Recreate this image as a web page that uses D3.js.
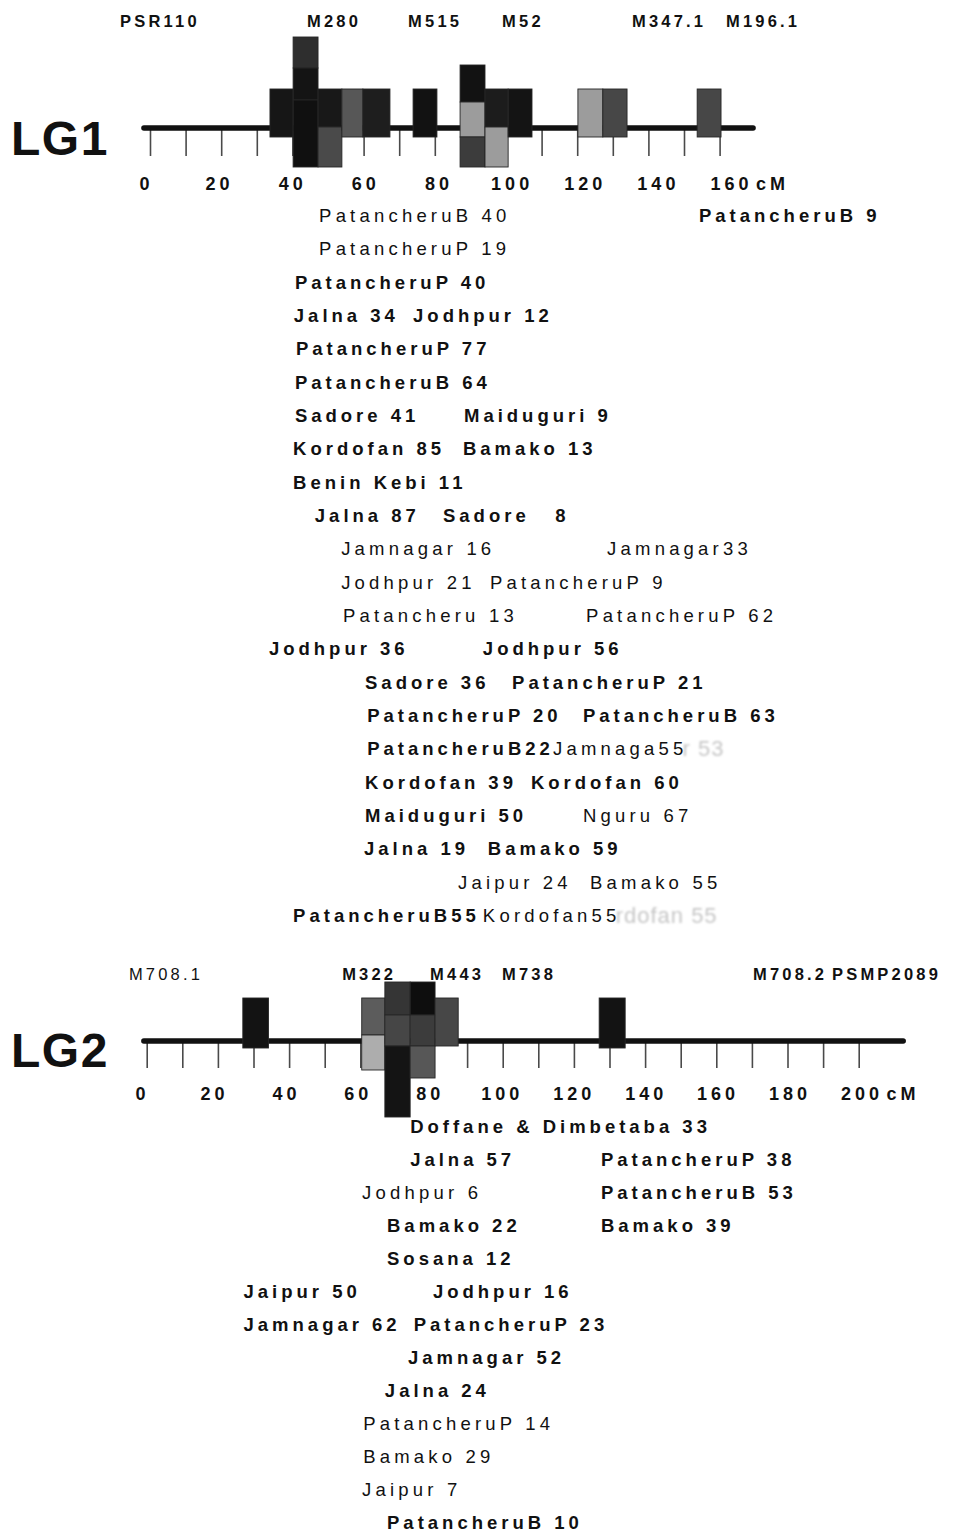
<!DOCTYPE html>
<html><head><meta charset="utf-8">
<script src="https://cdn.jsdelivr.net/npm/d3@7"></script>
<style>
html,body{margin:0;padding:0;background:#fff;}
svg{display:block;}
text{font-family:"Liberation Sans",Arial,Helvetica,sans-serif;fill:#111;}
</style></head><body>
<svg id="chart" width="958" height="1534"></svg>
<script>
// ---------------- LG1 data ----------------
const lg1Name = "LG1";
const lg1Extent = [-1.7, 169.4];
const lg1Ticks = [0,10,20,30,40,50,60,70,80,90,100,110,120,130,140,150,160];
const lg1TickLabels = [0,20,40,60,80,100,120,140,160];
const lg1Markers = ["PSR110","M280","M515","M52","M347.1","M196.1"];
const lg1MarkerAt = [-8.4,44.1,72.5,98.9,135.4,161.8];
const lg1MarkerBold = [1,1,1,1,1,1];
const lg1BoxStart = [33.7,40.2,40.2,40.2,47.2,47.2,53.9,59.8,73.9,87.1,87.1,87.1,94.1,94.1,100.6,120.2,127.2,153.7];
const lg1BoxEnd   = [40.2,47.2,47.2,47.2,53.9,53.9,59.8,67.4,80.6,94.1,94.1,94.1,100.6,100.6,107.3,127.2,134.0,160.4];
const lg1BoxTop   = [3.9,9.1,6.0,2.8,3.9,0.1,3.9,3.9,3.9,6.3,2.6,-0.9,3.9,0.1,3.9,3.9,3.9,3.9];
const lg1BoxBottom= [-0.9,6.0,2.8,-3.9,0.1,-3.9,-0.9,-0.9,-0.9,2.6,-0.9,-3.9,0.1,-3.9,-0.9,-0.9,-0.9,-0.9];
const lg1BoxShade = ["#161616","#2e2e2e","#141414","#101010","#181818","#4a4a4a","#575757","#1e1e1e","#121212","#121212","#9c9c9c","#3c3c3c","#1c1c1c","#9c9c9c","#141414","#9c9c9c","#474747","#474747"];
const lg1Texts = ["PatancheruB 40","PatancheruB 9","PatancheruP 19","PatancheruP 40","Jalna 34","Jodhpur 12","PatancheruP 77","PatancheruB 64","Sadore 41","Maiduguri 9","Kordofan 85","Bamako 13","Benin Kebi 11","Jalna 87","Sadore","8","Jamnagar 16","Jamnagar33","Jodhpur 21","PatancheruP 9","Patancheru 13","PatancheruP 62","Jodhpur 36","Jodhpur 56","Sadore 36","PatancheruP 21","PatancheruP 20","PatancheruB 63","PatancheruB22","Jamnaga55","Kordofan 39","Kordofan 60","Maiduguri 50","Nguru 67","Jalna 19","Bamako 59","Jaipur 24","Bamako 55","PatancheruB55","Kordofan55"];
const lg1TextRow = [1,1,2,3,4,4,5,6,7,7,8,8,9,10,10,10,11,11,12,12,13,13,14,14,15,15,16,16,17,17,18,18,19,19,20,20,21,21,22,22];
const lg1TextAt  = [47.5,154.2,47.5,40.7,40.4,73.9,41.0,40.7,40.7,88.2,40.2,87.9,40.2,46.3,82.3,113.8,53.7,128.4,53.7,95.5,54.2,122.5,33.4,93.5,60.4,101.7,61.0,121.6,61.0,113.2,60.4,107.0,60.4,121.6,60.1,94.9,86.5,123.6,40.2,93.5];
const lg1TextBold= [0,1,0,1,1,1,1,1,1,1,1,1,1,1,1,1,0,0,0,0,0,0,1,1,1,1,1,1,1,0,1,1,1,0,1,1,0,0,1,0];
const lg1Ghost = ["r 53","rdofan 55"];
const lg1GhostRow = [17,22];
const lg1GhostAt = [149.6,130.8];

// ---------------- LG2 data ----------------
const lg2Name = "LG2";
const lg2Extent = [-0.8, 212.5];
const lg2Ticks = [0,10,20,30,40,50,60,70,80,90,100,110,120,130,140,150,160,170,180,190,200];
const lg2TickLabels = [0,20,40,60,80,100,120,140,160,180,200];
const lg2Markers = ["M708.1","M322","M443","M738","M708.2","PSMP2089"];
const lg2MarkerAt = [-5.0,54.9,79.6,99.8,170.3,192.5];
const lg2MarkerBold = [0,1,1,1,1,1];
const lg2BoxStart = [27.0,60.4,60.4,66.9,66.9,66.9,74.0,74.0,74.0,81.0,127.1];
const lg2BoxEnd   = [34.2,66.9,66.9,74.0,74.0,74.0,81.0,81.0,81.0,87.5,134.4];
const lg2BoxTop   = [4.3,4.3,0.6,5.9,2.6,-0.5,5.9,2.6,-0.5,4.3,4.3];
const lg2BoxBottom= [-0.7,0.6,-2.9,2.6,-0.5,-7.6,2.6,-0.5,-3.7,-0.5,-0.7];
const lg2BoxShade = ["#131313","#5c5c5c","#adadad","#353535","#464646","#141414","#0e0e0e","#3c3c3c","#575757","#474747","#131313"];
const lg2Texts = ["Doffane & Dimbetaba 33","Jalna 57","PatancheruP 38","Jodhpur 6","PatancheruB 53","Bamako 22","Bamako 39","Sosana 12","Jaipur 50","Jodhpur 16","Jamnagar 62","PatancheruP 23","Jamnagar 52","Jalna 24","PatancheruP 14","Bamako 29","Jaipur 7","PatancheruB 10"];
const lg2TextRow = [1,2,2,3,3,4,4,5,6,6,7,7,8,9,10,11,12,13];
const lg2TextAt  = [74.0,74.0,127.6,60.5,127.6,67.5,127.6,67.5,27.2,80.4,27.2,75.0,73.4,66.9,60.8,60.8,60.5,67.5];
const lg2TextBold= [1,1,1,0,1,1,1,1,1,1,1,1,1,1,0,0,0,1];

// ---------------- drawing ----------------
const svg = d3.select("#chart");
const defs = svg.append("defs");
defs.append("filter").attr("id","ghostBlur")
  .append("feGaussianBlur").attr("stdDeviation",1.0);

function drawGroup(cfg) {
  const g = svg.append("g");
  const x = d3.scaleLinear().domain([0, cfg.max]).range(cfg.xRange);
  const xl = d3.scaleLinear().domain([0, cfg.max]).range(cfg.labelRange);
  const y = d3.scaleLinear().domain([0, 10]).range([cfg.lineY, cfg.lineY - 100]);
  const row = d3.scaleLinear().domain([1, cfg.rows]).range(cfg.rowRange);

  // big group name
  g.append("text").attr("x", 11).attr("y", cfg.nameY)
    .attr("font-size", 48).attr("font-weight", "bold")
    .style("letter-spacing", "1.5px").text(cfg.name);

  // ticks (d3 axis)
  const tickAxis = d3.axisBottom(x).tickValues(cfg.ticks).tickSize(cfg.tickLen).tickFormat("");
  const ta = g.append("g").attr("transform", `translate(0,${cfg.lineY})`).call(tickAxis);
  ta.select(".domain").remove();
  ta.selectAll(".tick line").attr("stroke", "#4a4a4a").attr("stroke-width", 1.6);

  // tick labels (d3 axis on label scale)
  const labAxis = d3.axisBottom(xl).tickValues(cfg.tickLabels).tickSize(0).tickPadding(0)
    .tickFormat(d => d);
  const la = g.append("g").attr("transform", `translate(0,${cfg.labelY})`).call(labAxis);
  la.select(".domain").remove();
  la.selectAll(".tick text")
    .attr("y", 0).attr("dy", 0)
    .attr("font-family", '"Liberation Sans",Arial,sans-serif')
    .attr("font-size", 18).attr("font-weight", "bold").attr("fill", "#111")
    .style("letter-spacing", "4px");
  // unit after last label
  const lastNode = la.selectAll(".tick text").filter(d => d === cfg.max).node();
  const w = lastNode.getComputedTextLength();
  la.append("text")
    .attr("text-anchor", "start")
    .attr("x", xl(cfg.max) + w / 2 + 4).attr("y", 0)
    .attr("font-family", '"Liberation Sans",Arial,sans-serif')
    .attr("font-size", 18).attr("font-weight", "bold").attr("fill", "#111")
    .style("letter-spacing", "4px").text("cM");

  // main chromosome line
  g.append("line")
    .attr("x1", x(cfg.extent[0])).attr("x2", x(cfg.extent[1]))
    .attr("y1", cfg.lineY).attr("y2", cfg.lineY)
    .attr("stroke", "#111").attr("stroke-width", 5.5).attr("stroke-linecap", "round");

  // QTL boxes
  g.append("g").selectAll("rect").data(cfg.boxStart).join("rect")
    .attr("x", (d, i) => x(cfg.boxStart[i]))
    .attr("width", (d, i) => x(cfg.boxEnd[i]) - x(cfg.boxStart[i]))
    .attr("y", (d, i) => y(cfg.boxTop[i]))
    .attr("height", (d, i) => y(cfg.boxBottom[i]) - y(cfg.boxTop[i]))
    .attr("fill", (d, i) => cfg.boxShade[i])
    .attr("stroke", "#262626").attr("stroke-width", 0.9);

  // marker names
  g.append("g").selectAll("text").data(cfg.markers).join("text")
    .attr("x", (d, i) => x(cfg.markerAt[i]))
    .attr("y", cfg.markerY)
    .attr("font-size", 16.5)
    .attr("font-weight", (d, i) => cfg.markerBold[i] ? "bold" : "normal")
    .style("letter-spacing", "3.2px")
    .text(d => d);

  // ghost texts (scan artefacts)
  if (cfg.ghost) {
    g.append("g").selectAll("text").data(cfg.ghost).join("text")
      .attr("x", (d, i) => x(cfg.ghostAt[i]))
      .attr("y", (d, i) => row(cfg.ghostRow[i]) + 1)
      .attr("font-family", '"Liberation Serif","DejaVu Serif",serif')
      .attr("font-size", 22)
      .style("fill", "#c6c6c6")
      .attr("filter", "url(#ghostBlur)")
      .style("letter-spacing", "1px")
      .text(d => d);
  }

  // population list
  g.append("g").selectAll("text").data(cfg.texts).join("text")
    .attr("x", (d, i) => x(cfg.textAt[i]))
    .attr("y", (d, i) => row(cfg.textRow[i]))
    .attr("font-size", 18.5)
    .attr("font-weight", (d, i) => cfg.textBold[i] ? "bold" : "normal")
    .style("letter-spacing", (d, i) => cfg.textBold[i] ? "4px" : "4.2px")
    .text(d => d);
}

drawGroup({
  name: lg1Name, nameY: 155, max: 160, xRange: [150, 719.6], labelRange: [146, 731],
  lineY: 128, labelY: 190, tickLen: 28, extent: lg1Extent,
  ticks: lg1Ticks, tickLabels: lg1TickLabels,
  boxStart: lg1BoxStart, boxEnd: lg1BoxEnd, boxTop: lg1BoxTop, boxBottom: lg1BoxBottom, boxShade: lg1BoxShade,
  markers: lg1Markers, markerAt: lg1MarkerAt, markerBold: lg1MarkerBold, markerY: 27,
  rows: 22, rowRange: [222, 922],
  texts: lg1Texts, textRow: lg1TextRow, textAt: lg1TextAt, textBold: lg1TextBold,
  ghost: lg1Ghost, ghostRow: lg1GhostRow, ghostAt: lg1GhostAt
});

drawGroup({
  name: lg2Name, nameY: 1067, max: 200, xRange: [146.7, 858.7], labelRange: [142, 861.5],
  lineY: 1041, labelY: 1100, tickLen: 27, extent: lg2Extent,
  ticks: lg2Ticks, tickLabels: lg2TickLabels,
  boxStart: lg2BoxStart, boxEnd: lg2BoxEnd, boxTop: lg2BoxTop, boxBottom: lg2BoxBottom, boxShade: lg2BoxShade,
  markers: lg2Markers, markerAt: lg2MarkerAt, markerBold: lg2MarkerBold, markerY: 980,
  rows: 13, rowRange: [1133, 1529],
  texts: lg2Texts, textRow: lg2TextRow, textAt: lg2TextAt, textBold: lg2TextBold
});
</script>
</body></html>
